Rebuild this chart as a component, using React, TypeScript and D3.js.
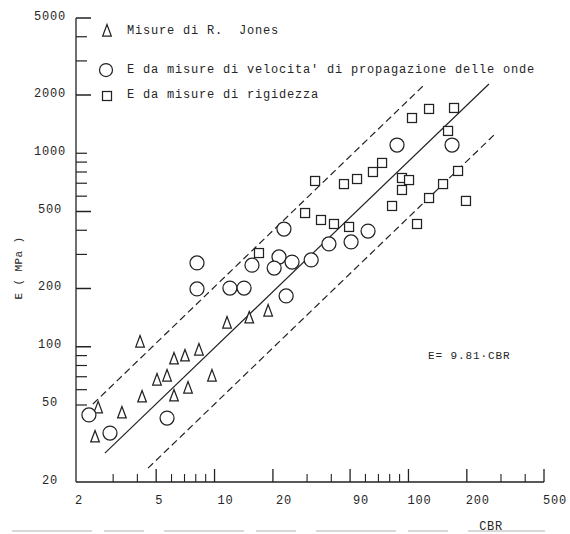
import React from "react";
import * as d3 from "d3";

// ---- Data ----
const triangleCBR = [4.13, 11.6, 15.1, 18.9, 8.31, 6.18, 7.04, 5.05, 5.69, 9.7, 4.23, 6.18, 7.3, 2.51, 3.33, 2.42];
const triangleE = [105.8, 132.6, 140.8, 153, 96.2, 86.5, 89.6, 67.3, 70.6, 70.6, 55.0, 55.7, 61.2, 48.3, 45.5, 34.2];

const circleCBR = [2.25, 2.89, 5.69, 8.12, 8.12, 12.0, 14.2, 15.6, 21.5, 20.3, 25.1, 22.8, 23.4, 31.5, 38.9, 50.6, 61.9, 87.3, 167.8];
const circleE = [44.4, 35.8, 42.8, 271, 199, 201, 201, 264, 291, 255, 274, 406, 183, 281, 340, 348, 396, 1103, 1103];

const squareCBR = [16.95, 29.3, 35.4, 41.3, 49.4, 33.0, 46.5, 54.3, 65.6, 73.1, 104.3, 127.7, 171.8, 160, 92.6, 100.7, 92.6, 82.3, 127.7, 150.8, 180.2, 198, 110.7];
const squareE = [305, 491, 452, 431, 416, 719, 693, 736, 800, 891, 1521, 1694, 1714, 1304, 745, 727, 646, 534, 587, 693, 810, 567, 431];

const solidLineCBR = [2.72, 260];
const solidLineE = [28.2, 2280];
const upperLineCBR = [2.36, 120.3];
const upperLineE = [50.6, 2253];
const lowerLineCBR = [4.54, 279.6];
const lowerLineE = [23.6, 1257];

const xMajorTicks = [5, 10, 20, 50, 100, 200, 500];
const xMinorTicks = [3, 4, 6, 7, 8, 9, 30, 40, 60, 70, 80, 90, 300, 400];
const xLabelValues = [2, 5, 10, 20, 50, 100, 200, 500];
const xLabelTexts = ["2", "5", "10", "20", "90", "100", "200", "500"];

const yMajorTicks = [5000, 2000, 500, 200, 100];
const yMinorTicks = [4000, 3000, 1000, 900, 800, 700, 600, 400, 300, 90, 80, 70, 60, 50];
const yLabelValues = [5000, 2000, 1000, 500, 200, 100, 50, 20];
const yLabelTexts = ["5000", "2000", "1000", "500", "200", "100", "50", "20"];

const legendLabels = [
  "Misure di R.  Jones",
  "E da misure di velocita' di propagazione delle onde",
  "E da misure di rigidezza",
];

const FONT = "'Liberation Mono', 'DejaVu Sans Mono', monospace";
const INK = "#222";
const TEXT = "#262626";

function zip(a: number[], b: number[]): [number, number][] {
  return a.map((v, i) => [v, b[i]] as [number, number]);
}

function Triangle({ cx, cy }: { cx: number; cy: number }) {
  return (
    <path
      d={`M${cx},${cy - 6.5} L${cx - 4.3},${cy + 5} L${cx + 4.3},${cy + 5} Z`}
      fill="white"
      stroke={INK}
      strokeWidth={1.25}
    />
  );
}

function Circle({ cx, cy, r = 7 }: { cx: number; cy: number; r?: number }) {
  return <circle cx={cx} cy={cy} r={r} fill="white" stroke={INK} strokeWidth={1.25} />;
}

function Square({ cx, cy }: { cx: number; cy: number }) {
  return <rect x={cx - 4.5} y={cy - 4.5} width={9} height={9} fill="white" stroke={INK} strokeWidth={1.25} />;
}

export default function App() {
  const W = 570;
  const H = 534;
  const x = d3.scaleLog().domain([2, 500]).range([79, 544]);
  const y = d3.scaleLog().domain([20, 5000]).range([482, 18]);
  const line = d3
    .line<[number, number]>()
    .x((d) => x(d[0]))
    .y((d) => y(d[1]));

  const x0 = x(2) - 3;
  const y0 = y(20);

  const legendRows = [30, 69, 94];

  return (
    <svg
      width={W}
      height={H}
      style={{ position: "absolute", left: 0, top: 0, background: "white" }}
      fontFamily={FONT}
    >
      <rect x={0} y={0} width={W} height={H} fill="white" />

      {/* axes */}
      <line x1={x0} y1={y(5000)} x2={x0} y2={y0} stroke={INK} strokeWidth={1.3} />
      <line x1={x0} y1={y0} x2={x(500)} y2={y0} stroke={INK} strokeWidth={1.3} />

      {yMajorTicks.map((v) => (
        <line key={"ym" + v} x1={x0} x2={x0 + 15} y1={y(v)} y2={y(v)} stroke={INK} strokeWidth={1.5} />
      ))}
      {yMinorTicks.map((v) => (
        <line key={"yn" + v} x1={x0} x2={x0 + 11} y1={y(v)} y2={y(v)} stroke={INK} strokeWidth={1.2} />
      ))}
      {xMajorTicks.map((v) => (
        <line key={"xm" + v} x1={x(v)} x2={x(v)} y1={y0} y2={y0 - 13} stroke={INK} strokeWidth={1.3} />
      ))}
      {xMinorTicks.map((v) => (
        <line key={"xn" + v} x1={x(v)} x2={x(v)} y1={y0} y2={y0 - 8} stroke={INK} strokeWidth={1.1} />
      ))}

      {/* tick labels */}
      {yLabelValues.map((v, i) => (
        <text
          key={"yl" + v}
          x={50}
          y={y(v) + 1.5}
          textAnchor="middle"
          fontSize={12}
          letterSpacing={0.8}
          fill={TEXT}
        >
          {yLabelTexts[i]}
        </text>
      ))}
      {xLabelValues.map((v, i) => (
        <text
          key={"xl" + v}
          x={x(v) + (v >= 10 ? 11 : v >= 5 ? 3 : 0)}
          y={504}
          textAnchor="middle"
          fontSize={12}
          letterSpacing={0.8}
          fill={TEXT}
        >
          {xLabelTexts[i]}
        </text>
      ))}

      {/* axis titles */}
      <text x={491} y={530} textAnchor="middle" fontSize={12} letterSpacing={0.6} fill={TEXT}>
        CBR
      </text>
      <text
        transform="translate(22,268) rotate(-90)"
        textAnchor="middle"
        fontSize={11}
        letterSpacing={0.4}
        fill={TEXT}
      >
        E ( MPa )
      </text>

      {/* regression lines */}
      <path d={line(zip(solidLineCBR, solidLineE)) || ""} fill="none" stroke={INK} strokeWidth={1.2} />
      <path
        d={line(zip(upperLineCBR, upperLineE)) || ""}
        fill="none"
        stroke={INK}
        strokeWidth={1.2}
        strokeDasharray="7 4"
      />
      <path
        d={line(zip(lowerLineCBR, lowerLineE)) || ""}
        fill="none"
        stroke={INK}
        strokeWidth={1.2}
        strokeDasharray="7 4"
      />

      {/* data markers */}
      {triangleCBR.map((c, i) => (
        <Triangle key={"t" + i} cx={x(c)} cy={y(triangleE[i])} />
      ))}
      {circleCBR.map((c, i) => (
        <Circle key={"c" + i} cx={x(c)} cy={y(circleE[i])} />
      ))}
      {squareCBR.map((c, i) => (
        <Square key={"s" + i} cx={x(c)} cy={y(squareE[i])} />
      ))}

      {/* annotation */}
      <text x={428} y={359} fontSize={11} letterSpacing={0.9} fill={TEXT}>
        E= 9.81·CBR
      </text>

      {/* legend */}
      <Triangle cx={107} cy={legendRows[0] + 1} />
      <Circle cx={106} cy={legendRows[1] + 1} r={6.5} />
      <Square cx={107} cy={legendRows[2] + 2} />
      {legendLabels.map((t, i) => (
        <text
          key={"lg" + i}
          x={127}
          y={legendRows[i] + 4}
          fontSize={12}
          letterSpacing={0.8}
          fill={TEXT}
          style={{ whiteSpace: "pre" }}
        >
          {t}
        </text>
      ))}

      {/* faint scan edge at the bottom */}
      <line x1={12} x2={545} y1={531} y2={531} stroke="#d9d9d9" strokeWidth={2} strokeDasharray="80 12 40 20" />
    </svg>
  );
}
